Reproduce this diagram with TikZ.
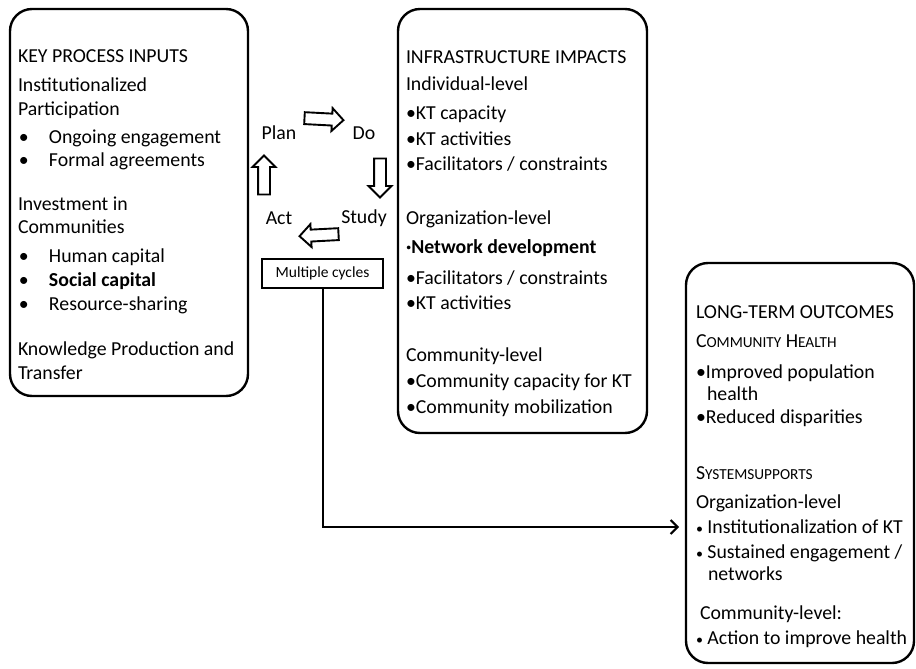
\documentclass[tikz,border=0pt]{standalone}
\usepackage{fontspec}
\setmainfont{Carlito}
\usetikzlibrary{shapes.arrows,arrows.meta}
\newcommand{\fsc}[2]{{\fontsize{19.8}{24}\selectfont #1}{\fontsize{15.3}{18}\selectfont #2}}
\newcommand{\smb}{{\fontsize{14}{14}\selectfont •}}
\begin{document}
\begin{tikzpicture}[x=1pt,y=-1pt,
  box/.style={draw, line width=2.4pt, rounded corners=22pt, anchor=north west, inner sep=0pt, outer sep=0pt},
  txt/.style={anchor=base west, inner sep=0pt, outer sep=0pt, font=\fontsize{19.8}{24}\selectfont},
  lbl/.style={anchor=center, inner sep=0pt, font=\fontsize{19.8}{24}\selectfont},
  cyc/.style={single arrow, draw, line width=1.9pt, fill=white, minimum height=39pt, inner sep=5pt, single arrow head extend=5.5pt},
  link/.style={line width=2pt, -{Straight Barb[length=7pt,width=14pt,line width=2pt]}}
]
\useasboundingbox (0,0) rectangle (916,669);

% boxes
\node[box, minimum width=238pt, minimum height=387pt] (inputs) at (10,9) {};
\node[box, minimum width=249pt, minimum height=424pt] (impacts) at (398,9) {};
\node[box, minimum width=228pt, minimum height=400pt] (outcomes) at (686,263) {};

% left box text
\node[txt] (in1) at (18,63) {KEY PROCESS INPUTS};
\node[txt] (in2) at (18,92) {Institutionalized};
\node[txt] (in3) at (18,115) {Participation};
\node[txt] (in4) at (19,143) {\makebox[30pt][l]{•}Ongoing engagement};
\node[txt] (in5) at (19,166) {\makebox[30pt][l]{•}Formal agreements};
\node[txt] (in6) at (18,210) {Investment in};
\node[txt] (in7) at (18,233) {Communities};
\node[txt] (in8) at (19,262) {\makebox[30pt][l]{•}Human capital};
\node[txt] (in9) at (19,286) {\makebox[30pt][l]{•}\textbf{Social capital}};
\node[txt] (in10) at (19,310) {\makebox[30pt][l]{•}Resource-sharing};
\node[txt] (in11) at (18,355) {Knowledge Production and};
\node[txt] (in12) at (18,379) {Transfer};

% middle box text
\node[txt] (im1) at (406,64) {INFRASTRUCTURE IMPACTS};
\node[txt] (im2) at (406,90) {Individual-level};
\node[txt] (im3) at (406,119) {•KT capacity};
\node[txt] (im4) at (406,145) {•KT activities};
\node[txt] (im5) at (406,170) {•Facilitators / constraints};
\node[txt] (im6) at (406,224) {Organization-level};
\node[txt] (im7) at (406,253) {\textbf{·Network development}};
\node[txt] (im8) at (406,284) {•Facilitators / constraints};
\node[txt] (im9) at (406,309) {•KT activities};
\node[txt] (im10) at (406,361) {Community-level};
\node[txt] (im11) at (406,387) {•Community capacity for KT};
\node[txt] (im12) at (406,413) {•Community mobilization};

% right box text
\node[txt] (out1) at (696,318) {LONG-TERM OUTCOMES};
\node[txt] (out2) at (696,347) {\fsc{C}{OMMUNITY} \fsc{H}{EALTH}};
\node[txt] (out3) at (696,378) {•Improved population};
\node[txt] (out4) at (707,400) {health};
\node[txt] (out5) at (696,423) {•Reduced disparities};
\node[txt] (out6) at (696,479) {\fsc{S}{YSTEMSUPPORTS}};
\node[txt] (out7) at (696,508) {Organization-level};
\node[txt] (out8) at (696,533) {\smb{} Institutionalization of KT};
\node[txt] (out9) at (696,558) {\smb{} Sustained engagement /};
\node[txt] (out10) at (708,580) {networks};
\node[txt] (out11) at (700,619) {Community-level:};
\node[txt] (out12) at (696,644) {\smb{} Action to improve health};

% PDSA cycle
\node[lbl] (plan) at (279,133) {Plan};
\node[lbl] (do) at (364,133) {Do};
\node[lbl] (study) at (364,218) {Study};
\node[lbl] (act) at (279,218) {Act};
\node[cyc, rotate=-3] (a1) at (321,119) {};
\node[cyc, rotate=-90] (a2) at (380,175) {};
\node[cyc, rotate=183] (a3) at (322,235) {};
\node[cyc, rotate=90] (a4) at (264,178) {};

\node[draw, line width=2pt, minimum width=121pt, minimum height=29pt, inner sep=0pt,
      font=\fontsize{15.5}{18}\selectfont] (cycles) at (322.5,273.5) {Multiple cycles};

\coordinate (tip) at (679,527);
\draw[link] (cycles.south) |- (tip);
\end{tikzpicture}
\end{document}
